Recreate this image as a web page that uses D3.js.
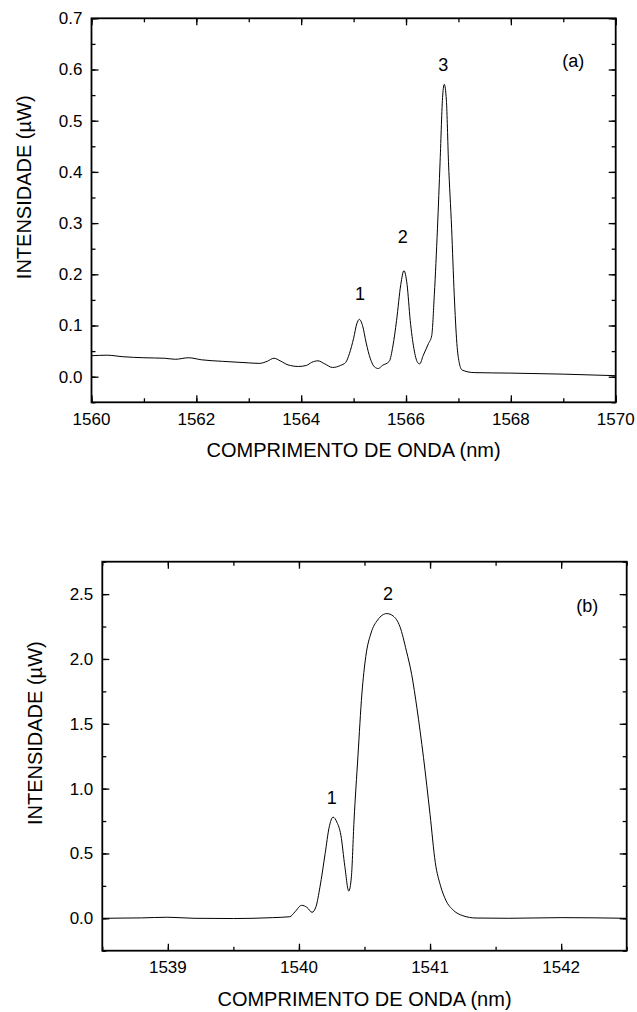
<!DOCTYPE html>
<html>
<head>
<meta charset="utf-8">
<script src="https://cdn.jsdelivr.net/npm/d3@7"></script>
<style>
    body { margin: 0; background: #fff; }
    svg { display: block; font-family: "Liberation Sans", Arial, sans-serif; }
</style>
</head>
<body>
<svg id="chart" width="637" height="1012"></svg>
<script>
// Spectrum (a) - wavelength (nm) / intensity (uW)
const waveA = [1560.0, 1560.3, 1560.6, 1561.0, 1561.4, 1561.6, 1561.85, 1562.1, 1562.5, 1563.0,
    1563.2, 1563.35, 1563.48, 1563.6, 1563.75, 1563.95, 1564.1, 1564.2, 1564.32, 1564.45,
    1564.6, 1564.75, 1564.85, 1564.92, 1565.0, 1565.06, 1565.11, 1565.17, 1565.24, 1565.32,
    1565.4, 1565.47, 1565.55, 1565.68, 1565.75, 1565.82, 1565.9, 1565.96, 1566.02, 1566.08,
    1566.15, 1566.22, 1566.26, 1566.33, 1566.43, 1566.49, 1566.54, 1566.6, 1566.65, 1566.7,
    1566.73, 1566.77, 1566.81, 1566.87, 1566.92, 1566.97, 1567.02, 1567.07, 1567.3, 1568.0,
    1569.0, 1570.0];
const intA = [0.041, 0.042, 0.039, 0.037, 0.036, 0.034, 0.037, 0.033, 0.030, 0.027,
    0.026, 0.030, 0.036, 0.031, 0.023, 0.020, 0.022, 0.028, 0.031, 0.025,
    0.018, 0.022, 0.028, 0.045, 0.075, 0.103, 0.112, 0.100, 0.066, 0.035,
    0.019, 0.016, 0.022, 0.030, 0.060, 0.110, 0.180, 0.207, 0.180, 0.110,
    0.055, 0.028, 0.025, 0.042, 0.065, 0.080, 0.160, 0.290, 0.420, 0.550,
    0.571, 0.540, 0.420, 0.290, 0.160, 0.065, 0.025, 0.013, 0.008, 0.007,
    0.005, 0.002];

// Spectrum (b)
const waveB = [1538.5, 1538.8, 1539.0, 1539.2, 1539.5, 1539.8, 1539.93, 1539.97, 1540.02, 1540.06,
    1540.10, 1540.13, 1540.16, 1540.20, 1540.23, 1540.26, 1540.29, 1540.32, 1540.35, 1540.38,
    1540.40, 1540.42, 1540.45, 1540.48, 1540.51, 1540.55, 1540.60, 1540.67, 1540.72, 1540.77,
    1540.82, 1540.86, 1540.90, 1540.95, 1541.00, 1541.04, 1541.08, 1541.12, 1541.18, 1541.25,
    1541.35, 1541.6, 1542.0, 1542.5];
const intB = [0.0, 0.003, 0.008, 0.0, -0.002, 0.005, 0.012, 0.05, 0.10, 0.085,
    0.046, 0.09, 0.24, 0.50, 0.70, 0.78, 0.74, 0.64, 0.40, 0.21,
    0.32, 0.75, 1.25, 1.73, 2.02, 2.20, 2.30, 2.35, 2.33, 2.25,
    2.06, 1.88, 1.62, 1.24, 0.80, 0.43, 0.25, 0.14, 0.06, 0.02,
    0.002, 0.0, 0.005, 0.0];

// axis ticks
const xTicksA = [1560, 1562, 1564, 1566, 1568, 1570];
const yTicksA = [0.0, 0.1, 0.2, 0.3, 0.4, 0.5, 0.6, 0.7];
const xTicksB = [1539, 1540, 1541, 1542];
const yTicksB = [0.0, 0.5, 1.0, 1.5, 2.0, 2.5];

// peak labels (text, wavelength, intensity)
const labelsA = [["1", 1565.12, 0.163], ["2", 1565.94, 0.273], ["3", 1566.71, 0.609], ["(a)", 1569.19, 0.618]];
const labelsB = [["1", 1540.25, 0.93], ["2", 1540.68, 2.50], ["(b)", 1542.20, 2.41]];

const svg = d3.select("#chart");

function drawPanel(p) {
    const x = d3.scaleLinear().domain(p.xDomain).range([p.left, p.right]);
    const y = d3.scaleLinear().domain(p.yDomain).range([p.bottom, p.top]);
    const g = svg.append("g");

    const minorX = d3.range(p.xDomain[0], p.xDomain[1] + 1e-9, p.xMinor);
    const minorY = d3.range(p.yDomain[0], p.yDomain[1] + 1e-9, p.yMinor);

    // ticks on all four sides, pointing inward (minor first, then major)
    const axes = [
        [d3.axisBottom(x).tickValues(minorX), `translate(0,${p.bottom})`, -4],
        [d3.axisTop(x).tickValues(minorX), `translate(0,${p.top})`, -4],
        [d3.axisLeft(y).tickValues(minorY), `translate(${p.left},0)`, -4],
        [d3.axisRight(y).tickValues(minorY), `translate(${p.right},0)`, -4],
        [d3.axisBottom(x).tickValues(p.xTicks), `translate(0,${p.bottom})`, -7],
        [d3.axisTop(x).tickValues(p.xTicks), `translate(0,${p.top})`, -7],
        [d3.axisLeft(y).tickValues(p.yTicks), `translate(${p.left},0)`, -7],
        [d3.axisRight(y).tickValues(p.yTicks), `translate(${p.right},0)`, -7]
    ];
    axes.forEach(([ax, tr, len]) => {
        const a = g.append("g").attr("transform", tr)
            .call(ax.tickSize(len).tickFormat(""));
        a.select(".domain").remove();
        a.selectAll("line").attr("stroke", "#000").attr("stroke-width", 1.3);
    });

    // tick labels
    g.selectAll(".xl").data(p.xTicks).join("text")
        .attr("x", d => x(d)).attr("y", p.bottom + 16.5)
        .attr("dy", "0.35em").attr("text-anchor", "middle")
        .attr("font-size", 17).text(d => d);
    g.selectAll(".yl").data(p.yTicks).join("text")
        .attr("x", p.left - 9).attr("y", d => y(d))
        .attr("dy", "0.35em").attr("text-anchor", "end")
        .attr("font-size", 17).text(d => d3.format(".1f")(d));

    // frame
    g.append("rect")
        .attr("x", p.left).attr("y", p.top)
        .attr("width", p.right - p.left).attr("height", p.bottom - p.top)
        .attr("fill", "none").attr("stroke", "#000").attr("stroke-width", 1.8);

    // spectrum
    const pts = p.xs.map((v, i) => [v, p.ys[i]]);
    g.append("path")
        .datum(pts)
        .attr("fill", "none").attr("stroke", "#000").attr("stroke-width", 1)
        .attr("d", d3.line().x(d => x(d[0])).y(d => y(d[1])).curve(d3.curveMonotoneX));

    // peak labels
    g.selectAll(".pk").data(p.labels).join("text")
        .attr("x", d => x(d[1])).attr("y", d => y(d[2]))
        .attr("dy", "0.35em").attr("text-anchor", "middle")
        .attr("font-size", 18).text(d => d[0]);

    // axis titles
    g.append("text")
        .attr("x", (p.left + p.right) / 2).attr("y", p.bottom + 48)
        .attr("dy", "0.35em").attr("text-anchor", "middle")
        .attr("font-size", 20).text("COMPRIMENTO DE ONDA (nm)");
    g.append("text")
        .attr("transform", `translate(${p.yTitleX},${(p.top + p.bottom) / 2 - 23}) rotate(-90)`)
        .attr("dy", "0.35em").attr("text-anchor", "middle")
        .attr("font-size", 20).text("INTENSIDADE (\u00b5W)");
}

drawPanel({
    xs: waveA, ys: intA, labels: labelsA,
    xDomain: [1560, 1570], yDomain: [-0.05, 0.7],
    xTicks: xTicksA, yTicks: yTicksA, xMinor: 1, yMinor: 0.05,
    left: 91.5, right: 615.7, top: 18.3, bottom: 402.3, yTitleX: 24
});

drawPanel({
    xs: waveB, ys: intB, labels: labelsB,
    xDomain: [1538.5, 1542.5], yDomain: [-0.25, 2.75],
    xTicks: xTicksB, yTicks: yTicksB, xMinor: 0.5, yMinor: 0.25,
    left: 102.3, right: 626.7, top: 561.7, bottom: 950.7, yTitleX: 35
});
</script>
</body>
</html>
